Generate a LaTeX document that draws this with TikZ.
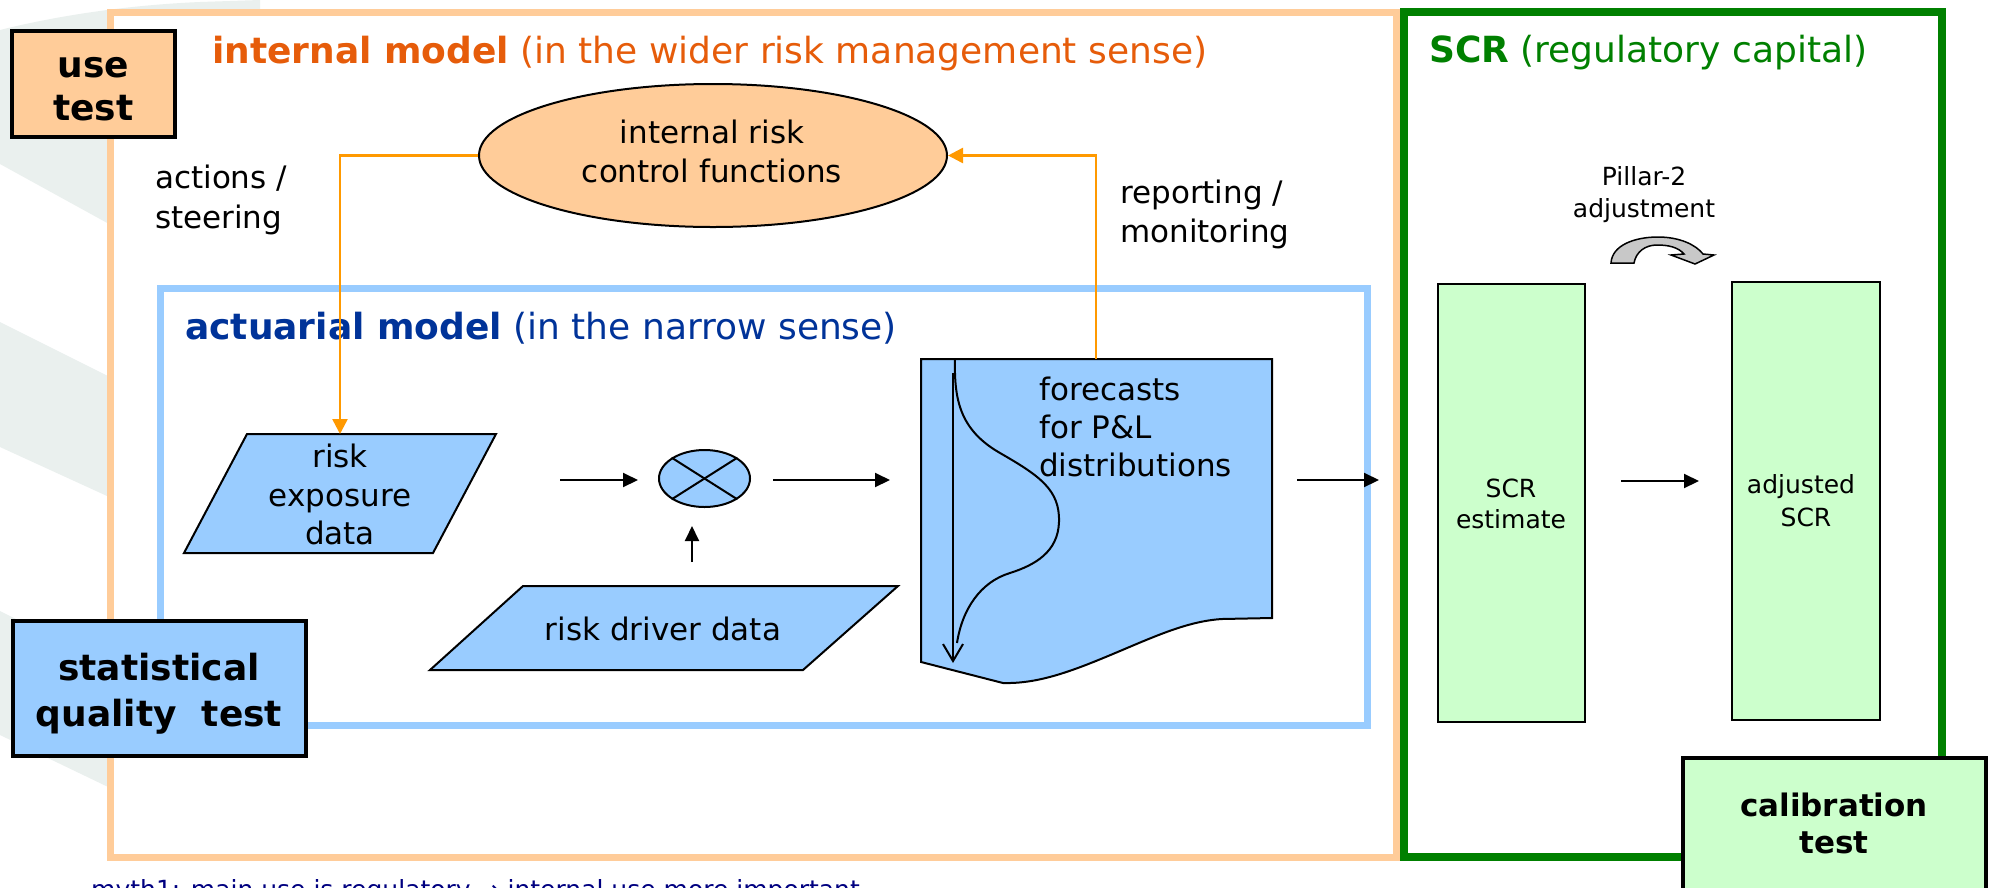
\documentclass[tikz,border=0pt]{standalone}
\usepackage{fontspec}
\setmainfont{DejaVu Sans}
\usetikzlibrary{shapes.geometric,arrows.meta}
\definecolor{ofill}{HTML}{FFCC99}
\definecolor{bfill}{HTML}{99CCFF}
\definecolor{gfill}{HTML}{CCFFCC}
\definecolor{oline}{HTML}{FF9900}
\definecolor{otitle}{HTML}{E65C0A}
\definecolor{ntitle}{HTML}{003399}
\definecolor{gline}{HTML}{008000}
\definecolor{foot}{HTML}{000080}
\definecolor{wm}{HTML}{EAF0EE}
\definecolor{garrow}{HTML}{C8C8C8}
\tikzset{
  txt/.style={inner sep=0pt, font=\fontsize{31}{38}\selectfont, anchor=base},
  txtl/.style={txt, anchor=base west},
  smalltxt/.style={inner sep=0pt, font=\fontsize{25}{30}\selectfont, anchor=base},
  ttl/.style={inner sep=0pt, font=\fontsize{36}{42}\selectfont, anchor=base west},
  testbox/.style={draw=black, line width=4pt, rectangle, inner sep=0pt},
  testtxt/.style={inner sep=0pt, font=\fontsize{36}{42}\selectfont\bfseries, anchor=base},
  caltxt/.style={inner sep=0pt, font=\fontsize{31}{38}\selectfont\bfseries, anchor=base},
  scrbox/.style={draw=black, line width=2pt, fill=gfill, rectangle, inner sep=0pt},
  shapeline/.style={draw=black, line width=2pt, fill=bfill},
  arr/.style={line width=2pt, -{Triangle[length=15pt,width=14pt]}},
  oarr/.style={draw=oline, line width=2.5pt, -{Triangle[length=15pt,width=15pt]}},
}
\begin{document}
\begin{tikzpicture}[x=1pt,y=-1pt]
\useasboundingbox (0,0) rectangle (1989,887);
\fill[white] (0,0) rectangle (1989,887);

% faint watermark bands
\fill[wm] (0,30) .. controls (60,15) and (130,5) .. (200,2) -- (260,0) -- (260,307) -- (0,164) -- cycle;
\fill[wm] (0,322) -- (260,452) -- (260,566) -- (0,447) -- cycle;
\fill[wm] (0,611) -- (260,741) -- (260,860) -- (0,735) -- cycle;

% frames
\draw[draw=ofill, line width=7pt, fill=white] (110,12) rectangle (1396,857);
\draw[draw=gline, line width=8pt, fill=white] (1404,12) rectangle (1942,857);
\draw[draw=bfill, line width=7pt] (160,288) rectangle (1367,725);

% titles
\node[ttl, text=otitle] (t1) at (212,63) {\textbf{internal model} (in the wider risk management sense)};
\node[ttl, text=ntitle] (t2) at (185,339) {\textbf{actuarial model} (in the narrow sense)};
\node[ttl, text=gline] (t3) at (1429,62) {\textbf{SCR} (regulatory capital)};

% ellipse internal risk control functions
\node[ellipse, draw=black, line width=2pt, fill=ofill, minimum width=468pt, minimum height=143pt, inner sep=0pt] (irc) at (713,155.5) {};
\node[txt] (irc1) at (712,143) {internal risk};
\node[txt] (irc2) at (712,182) {control functions};

\node[txtl] (act1) at (155,188) {actions /};
\node[txtl] (act2) at (155,228) {steering};
\node[txtl] (rep1) at (1120,203) {reporting /};
\node[txtl] (rep2) at (1120,242) {monitoring};

% risk exposure data
\draw[shapeline] (247,434) -- (496,434) -- (433,553) -- (184,553) -- cycle;
\coordinate (rexN) at (340,434);
\node[txt] (rex1) at (340,467) {risk};
\node[txt] (rex2) at (340,506) {exposure};
\node[txt] (rex3) at (340,544) {data};

% risk driver data
\draw[shapeline] (523,586) -- (898,586) -- (803,670) -- (430,670) -- cycle;
\node[txt] (rdd) at (663,640) {risk driver data};

% multiplier
\node[ellipse, draw=black, line width=2pt, fill=bfill, minimum width=91pt, minimum height=57pt, inner sep=0pt] (mul) at (704.5,478.5) {};
\draw[line width=2pt] (mul.north west) -- (mul.south east);
\draw[line width=2pt] (mul.north east) -- (mul.south west);

% forecasts document
\draw[shapeline] (921,359) -- (1272,359) -- (1272,618) -- (1222,619)
  .. controls (1190,621) and (1160,634) .. (1120,651)
  .. controls (1075,670) and (1040,684) .. (1003,683) -- (921,662) -- cycle;
\coordinate (fcN) at (1096,359);
\draw[line width=2pt] (955,359) .. controls (954,400) and (960,430) .. (1000,453)
  .. controls (1040,476) and (1060,490) .. (1059,522)
  .. controls (1058,552) and (1035,565) .. (1010,573)
  .. controls (980,582) and (962,610) .. (957,643);
\coordinate (fa1) at (953,373);
\coordinate (fa2) at (953,663);
\draw[line width=2pt, -{Straight Barb[length=17pt,width=20pt,line width=2pt]}] (fa1) -- (fa2);
\node[txtl] (fc1) at (1039,400) {forecasts};
\node[txtl] (fc2) at (1039,438) {for P\&L};
\node[txtl] (fc3) at (1039,476) {distributions};

% black arrows
\coordinate (a1s) at (560,480); \coordinate (a1e) at (638,480);
\coordinate (a2s) at (773,480); \coordinate (a2e) at (890,480);
\coordinate (a3s) at (692,562); \coordinate (a3e) at (692,526);
\coordinate (a4s) at (1297,480); \coordinate (a4e) at (1379,480);
\coordinate (a5s) at (1621,481); \coordinate (a5e) at (1699,481);
\draw[arr] (a1s) -- (a1e);
\draw[arr] (a2s) -- (a2e);
\draw[arr] (a3s) -- (a3e);
\draw[arr] (a4s) -- (a4e);
\draw[arr] (a5s) -- (a5e);

% orange connectors
\draw[oarr] (irc.west) -| (rexN);
\draw[oarr] (fcN) |- (irc.east);

% SCR boxes
\node[scrbox, minimum width=147pt, minimum height=438pt] (scr) at (1511.5,503) {};
\node[smalltxt] (scr1) at (1511,497) {SCR};
\node[smalltxt] (scr2) at (1511,528) {estimate};
\node[scrbox, minimum width=148pt, minimum height=438pt] (adj) at (1806,501) {};
\node[smalltxt] (adj1) at (1801,493) {adjusted};
\node[smalltxt] (adj2) at (1806,526) {SCR};
\node[smalltxt] (pil1) at (1644,185) {Pillar-2};
\node[smalltxt] (pil2) at (1644,217) {adjustment};
\draw[fill=garrow, line width=1.5pt, line join=miter] (1611,263)
  .. controls (1612,245) and (1635,237) .. (1658,237)
  .. controls (1680,237) and (1696,245) .. (1703,254)
  -- (1714,255) -- (1695,264) -- (1671,255) -- (1684,254)
  .. controls (1678,247) and (1668,245) .. (1657,245)
  .. controls (1645,245) and (1636,252) .. (1634,263) -- cycle;

% test boxes
\node[testbox, fill=ofill, minimum width=163pt, minimum height=106pt] (use) at (93.5,84) {};
\node[testtxt] (use1) at (93.5,77.5) {use};
\node[testtxt] (use2) at (93.5,120) {test};
\node[testbox, fill=bfill, minimum width=293pt, minimum height=135pt] (sqt) at (159.5,688.5) {};
\node[testtxt] (sqt1) at (159,680) {statistical};
\node[testtxt] (sqt2) at (159,726) {quality\ \ test};
\node[testbox, fill=gfill, minimum width=303pt, minimum height=172pt] (cal) at (1834.5,844) {};
\node[caltxt] (cal1) at (1834,816) {calibration};
\node[caltxt] (cal2) at (1834,853) {test};

% footnote (cut by the page edge)
\node[inner sep=0pt, anchor=base west, font=\fontsize{25}{30}\selectfont, text=foot] (myth) at (91,898) {myth1: main use is regulatory → internal use more important};
\end{tikzpicture}
\end{document}
